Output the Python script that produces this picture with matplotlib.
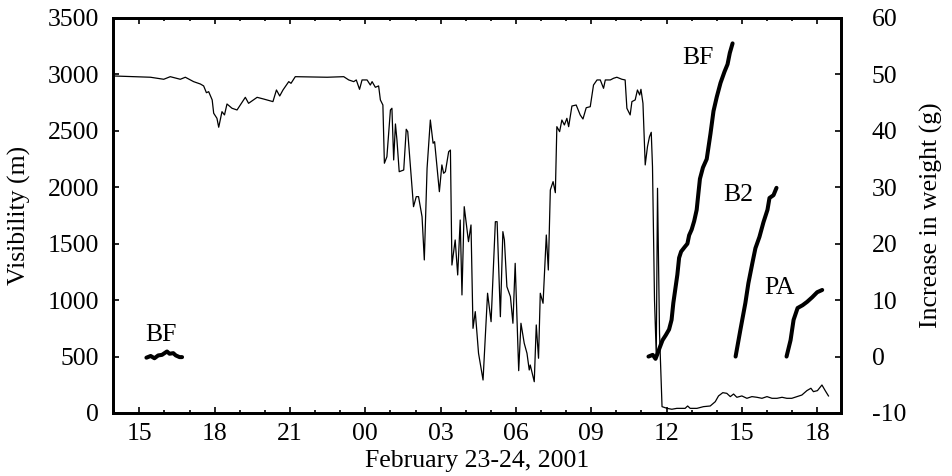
import matplotlib
matplotlib.use("Agg")
import matplotlib.pyplot as plt
from matplotlib.ticker import MultipleLocator

plt.rcParams['font.family'] = ['Liberation Serif', 'DejaVu Serif']
plt.rcParams['axes.unicode_minus'] = False

# hours since 00:00 Feb 23 (24 = 00 Feb 24)
vis_hours = [14.0, 15.44, 15.97, 16.23, 16.63, 16.83, 17.16, 17.43, 17.56, 17.67, 17.76, 17.9, 17.96,
             18.09, 18.16, 18.29, 18.39, 18.49, 18.69, 18.89, 19.02, 19.22, 19.35, 19.69, 19.95, 20.32,
             20.46, 20.59, 20.72, 20.95, 21.04, 21.21, 22.48, 23.14, 23.34, 23.54, 23.64, 23.77, 23.87,
             24.07, 24.2, 24.27, 24.4, 24.53, 24.6, 24.7, 24.76, 24.86, 25.0, 25.06, 25.13, 25.2, 25.26,
             25.35, 25.53, 25.63, 25.69, 25.92, 26.03, 26.12, 26.26, 26.35, 26.46, 26.59, 26.7, 26.76,
             26.95, 27.05, 27.12, 27.19, 27.32, 27.39, 27.45, 27.58, 27.68, 27.78, 27.85, 27.94, 28.11,
             28.21, 28.29, 28.38, 28.51, 28.69, 28.87, 29.01, 29.18, 29.25, 29.38, 29.48, 29.54, 29.64,
             29.78, 29.88, 29.97, 30.11, 30.2, 30.33, 30.44, 30.53, 30.57, 30.73, 30.81, 30.9, 30.97,
             31.08, 31.21, 31.29, 31.37, 31.48, 31.57, 31.63, 31.74, 31.83, 31.93, 32.03, 32.1, 32.23,
             32.4, 32.56, 32.67, 32.8, 32.96, 33.09, 33.23, 33.36, 33.49, 33.56, 33.76, 33.89, 34.02,
             34.22, 34.35, 34.42, 34.55, 34.62, 34.75, 34.84, 34.93, 34.98, 35.06, 35.15, 35.24, 35.32,
             35.39, 35.44, 35.52, 35.59, 35.64, 35.72, 35.82, 36.02, 36.21, 36.41, 36.74, 36.84, 36.94,
             37.21, 37.47, 37.74, 37.94, 38.07, 38.24, 38.4, 38.54, 38.67, 38.8, 39.0, 39.2, 39.4, 39.6,
             39.8, 40.0, 40.2, 40.4, 40.6, 40.79, 40.99, 41.19, 41.39, 41.59, 41.75, 41.85, 42.01, 42.19,
             42.32, 42.45]
visibility = [2986, 2975, 2957, 2980, 2957, 2975, 2936, 2915, 2898, 2838, 2847, 2774, 2656,
              2611, 2532, 2670, 2641, 2738, 2700, 2685, 2729, 2797, 2744, 2797, 2782, 2759,
              2862, 2809, 2862, 2936, 2921, 2980, 2975, 2980, 2951, 2936, 2951, 2868, 2951,
              2951, 2906, 2936, 2886, 2898, 2774, 2729, 2213, 2271, 2685, 2700, 2242, 2561, 2419,
              2138, 2153, 2514, 2493, 1828, 1917, 1917, 1739, 1356, 2168, 2596, 2390, 2404,
              1961, 2198, 2124, 2138, 2315, 2330, 1311, 1533, 1223, 1710, 1046, 1828, 1518,
              1666, 750, 898, 529, 292, 1061, 809, 1695, 1695, 853, 1607, 1533, 1119,
              1031, 795, 1326, 375, 795, 618, 529, 381, 425, 277, 780, 485, 1061,
              972, 1577, 1267, 1976, 2050, 1952, 2537, 2493, 2596, 2552, 2611, 2537, 2720,
              2729, 2641, 2605, 2705, 2714, 2906, 2951, 2951, 2877, 2951, 2951, 2966, 2975,
              2957, 2951, 2700, 2641, 2759, 2774, 2862, 2818, 2868, 2744, 2198, 2360, 2448,
              2487, 2183, 1001, 514, 1991, 706, 56, 41, 33, 41, 41, 62, 41,
              41, 56, 62, 100, 151, 180, 174, 145, 168, 139, 151, 130, 145, 139,
              130, 145, 130, 130, 139, 130, 130, 145, 159, 198, 219, 189, 198, 248,
              198, 151]

bf1_hours = [15.28, 15.45, 15.6, 15.75, 15.9, 16.0, 16.1, 16.2, 16.35, 16.45, 16.6, 16.7]
bf1_weight = [-0.2, 0.1, -0.3, 0.2, 0.3, 0.6, 0.9, 0.5, 0.6, 0.2, -0.1, -0.1]

bf2_hours = [35.28, 35.45, 35.56, 35.64, 35.72, 35.84, 35.97, 36.1, 36.2, 36.27, 36.35, 36.43,
             36.5, 36.58, 36.72, 36.83, 36.9, 37.0, 37.1, 37.2, 37.27, 37.33, 37.45, 37.6, 37.75,
             37.87, 38.0, 38.15, 38.31, 38.43, 38.52, 38.63]
bf2_weight = [0.0, 0.3, -0.4, 0.5, 1.5, 2.9, 3.8, 4.8, 6.5, 9.5, 12.0, 14.5,
              17.5, 18.6, 19.4, 20.0, 21.5, 22.5, 24.0, 26.0, 29.0, 31.5, 33.5, 35.0, 39.5,
              43.5, 46.0, 48.5, 50.5, 51.8, 53.8, 55.5]

b2_hours = [38.75, 38.94, 39.14, 39.26, 39.42, 39.54, 39.7, 39.86, 40.02, 40.1, 40.26, 40.38]
b2_weight = [0, 4.7, 9.5, 13.0, 16.6, 19.2, 21.2, 23.8, 26.0, 28.1, 28.6, 29.9]

pa_hours = [40.78, 40.94, 41.06, 41.22, 41.42, 41.6, 41.8, 42.0, 42.2]
pa_weight = [0, 2.9, 6.5, 8.6, 9.1, 9.7, 10.5, 11.4, 11.8]

tick_hours = [15, 18, 21, 24, 27, 30, 33, 36, 39, 42]
tick_labels = ["15", "18", "21", "00", "03", "06", "09", "12", "15", "18"]

FS = 18.5
fig = plt.figure(figsize=(9.53, 4.76), dpi=100)
ax = fig.add_axes([0.1186, 0.1324, 0.7639, 0.8298])
ax.plot(vis_hours, visibility, color='black', lw=0.9)
ax.set_xlim(13.95, 42.95)
ax.set_ylim(0, 3500)
ax.yaxis.set_major_locator(MultipleLocator(500))
ax.set_xticks(tick_hours)
ax.set_xticklabels(tick_labels)
ax.xaxis.set_minor_locator(MultipleLocator(1))
ax.tick_params(axis='both', which='both', direction='in', top=True, labelsize=FS, width=1.2)
ax.tick_params(axis='x', which='major', length=4, pad=7)
ax.tick_params(axis='x', which='minor', length=2.5)
ax.tick_params(axis='y', which='major', length=4, pad=10)
ax.set_ylabel("Visibility (m)", fontsize=FS, labelpad=12)
ax.set_xlabel("February 23-24, 2001", fontsize=FS, labelpad=4)
for s in ax.spines.values():
    s.set_linewidth(2)

ax2 = ax.twinx()
ax2.set_ylim(-10, 60)
ax2.yaxis.set_major_locator(MultipleLocator(10))
ax2.tick_params(axis='y', direction='in', labelsize=FS, length=4, width=1.2, pad=22)
ax2.set_ylabel("Increase in weight (g)", fontsize=FS, labelpad=10)
for s in ax2.spines.values():
    s.set_linewidth(2)

for h, w in [(bf1_hours, bf1_weight), (bf2_hours, bf2_weight), (b2_hours, b2_weight), (pa_hours, pa_weight)]:
    ax2.plot(h, w, color='black', lw=2.9, solid_capstyle='round')

ax2.text(15.84, 3.8, "BF", fontsize=FS, ha='center', va='center')
ax2.text(37.27, 52.9, "BF", fontsize=FS, ha='center', va='center')
ax2.text(38.84, 28.6, "B2", fontsize=FS, ha='center', va='center')
ax2.text(40.5, 12.2, "PA", fontsize=FS, ha='center', va='center')

fig.savefig("out.png", dpi=100)
